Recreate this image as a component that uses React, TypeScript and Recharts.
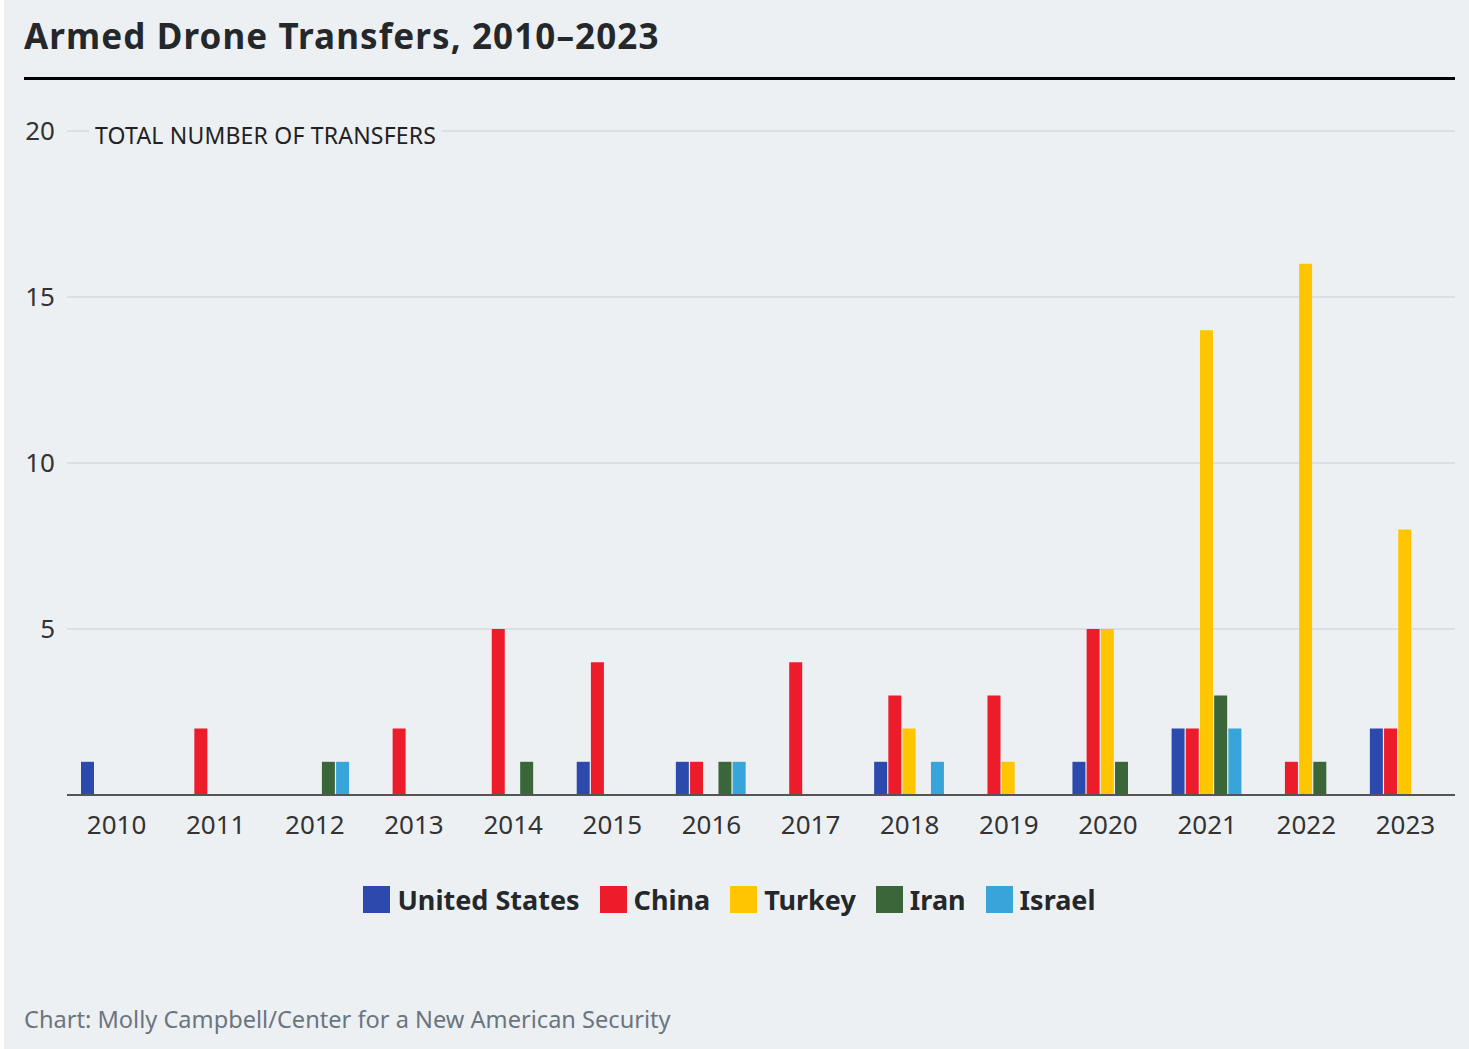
import React from 'react';
import { BarChart, Bar, XAxis, YAxis, CartesianGrid, Legend } from 'recharts';

const years = ['2010', '2011', '2012', '2013', '2014', '2015', '2016', '2017', '2018', '2019', '2020', '2021', '2022', '2023'];
const unitedStates = [1, 0, 0, 0, 0, 1, 1, 0, 1, 0, 1, 2, 0, 2];
const china = [0, 2, 0, 2, 5, 4, 1, 4, 3, 3, 5, 2, 1, 2];
const turkey = [0, 0, 0, 0, 0, 0, 0, 0, 2, 1, 5, 14, 16, 8];
const iran = [0, 0, 1, 0, 1, 0, 1, 0, 0, 0, 1, 3, 1, 0];
const israel = [0, 0, 1, 0, 0, 0, 1, 0, 1, 0, 0, 2, 0, 0];
const yTicks = [5, 10, 15, 20];

const series = [
  { key: 'us', name: 'United States', color: '#2c4aad' },
  { key: 'china', name: 'China', color: '#ec1c2b' },
  { key: 'turkey', name: 'Turkey', color: '#ffc600' },
  { key: 'iran', name: 'Iran', color: '#3b6639' },
  { key: 'israel', name: 'Israel', color: '#37a4da' },
];
const legendOrder = series.map((s) => s.name);

const data = years.map((year, i) => ({
  year,
  us: unitedStates[i],
  china: china[i],
  turkey: turkey[i],
  iran: iran[i],
  israel: israel[i],
}));

const BG = '#edf0f3';
const FONT = '"Noto Sans", sans-serif';

// legend row: square swatch + bold label, centred under the plot
const renderLegend = ({ payload }: any) => (
  <div style={{ display: 'flex', justifyContent: 'center', alignItems: 'center', height: 36 }}>
    {(payload || []).map((entry: any, i: number) => (
      <div
        key={entry.value}
        style={{ display: 'flex', alignItems: 'center', marginRight: i < payload.length - 1 ? 20 : 0 }}
      >
        <div style={{ width: 27, height: 27, background: entry.color, marginRight: 7 }} />
        <span style={{ color: '#25282b', fontSize: 27, fontWeight: 700, fontFamily: FONT, lineHeight: 'normal' }}>
          {entry.value}
        </span>
      </div>
    ))}
  </div>
);

export default function App() {
  return (
    <div
      style={{
        position: 'absolute',
        left: 4,
        top: 0,
        width: 1465,
        height: 1049,
        background: BG,
        fontFamily: FONT,
        overflow: 'hidden',
      }}
    >
      <div
        style={{
          position: 'absolute',
          left: 20,
          top: 18,
          fontSize: 35,
          lineHeight: '35px',
          letterSpacing: 1.1,
          fontWeight: 700,
          color: '#25282b',
          whiteSpace: 'nowrap',
        }}
      >
        Armed Drone Transfers, 2010–2023
      </div>
      <div style={{ position: 'absolute', left: 20, top: 77, width: 1431, height: 3, background: '#000' }} />

      <BarChart
        width={1465}
        height={960}
        data={data}
        margin={{ top: 131, right: 14, left: 0, bottom: 43 }}
        barCategoryGap={14}
        barGap={1.2}
        style={{ position: 'absolute', left: 0, top: 0 }}
      >
        <CartesianGrid vertical={false} stroke="#d6dbe0" strokeWidth={1.5} />
        <XAxis
          dataKey="year"
          height={86}
          tickLine={false}
          tickSize={0}
          tickMargin={21}
          axisLine={{ stroke: '#555', strokeWidth: 2 }}
          tick={{ fill: '#333', fontSize: 26, fontFamily: FONT }}
          interval={0}
        />
        <YAxis
          width={63}
          domain={[0, 20]}
          ticks={yTicks}
          axisLine={false}
          tickLine={false}
          tickSize={0}
          tickMargin={12}
          tick={{ fill: '#333', fontSize: 26, fontFamily: FONT }}
        />
        <Legend
          verticalAlign="bottom"
          height={36}
          itemSorter={(item: any) => legendOrder.indexOf(item.value)}
          content={renderLegend}
        />
        {series.map((s) => (
          <Bar key={s.key} dataKey={s.key} name={s.name} fill={s.color} isAnimationActive={false} />
        ))}
      </BarChart>

      <div
        style={{
          position: 'absolute',
          left: 85,
          top: 120,
          padding: '0 6px',
          background: BG,
          fontSize: 23,
          letterSpacing: 0.2,
          lineHeight: '30px',
          color: '#222',
          whiteSpace: 'nowrap',
        }}
      >
        TOTAL NUMBER OF TRANSFERS
      </div>

      <div
        style={{
          position: 'absolute',
          left: 20,
          top: 1003,
          fontSize: 23.6,
          lineHeight: '32px',
          color: '#6b7580',
          whiteSpace: 'nowrap',
        }}
      >
        Chart: Molly Campbell/Center for a New American Security
      </div>
    </div>
  );
}
